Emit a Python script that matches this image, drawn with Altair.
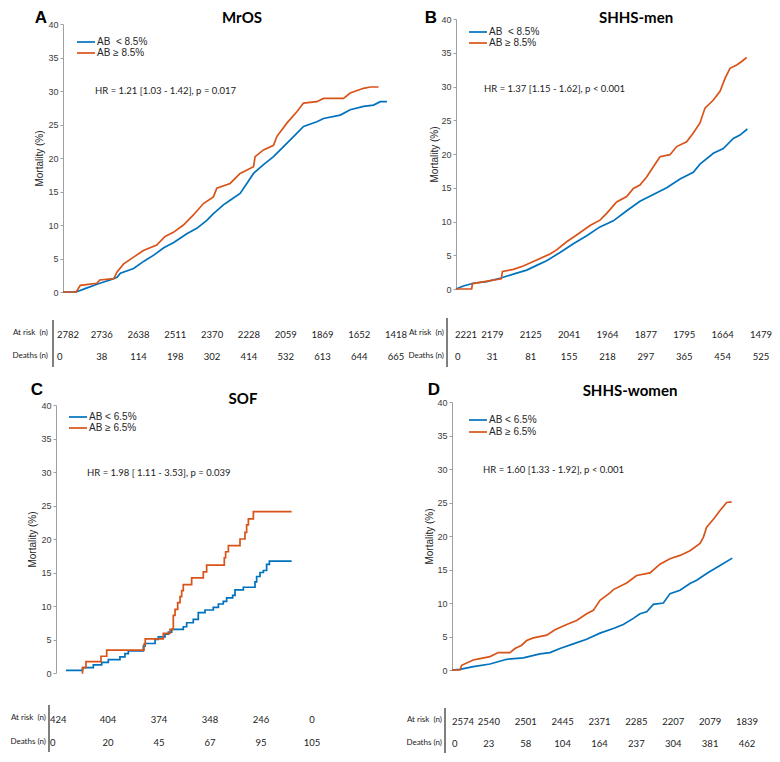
import altair as alt
import pandas as pd

BLUE = "#0072BD"
ORANGE = "#D95319"

# ---------------- Panel A : MrOS ----------------
A_low_days = [0, 180, 300, 500, 640, 735, 780, 960, 1100, 1234, 1370, 1506, 1683, 1819, 1955, 2045, 2181, 2272,
              2408, 2499, 2590, 2726, 2862, 2998, 3134, 3270, 3451, 3542, 3769, 3905, 4086, 4222, 4313, 4404]
A_low_mort = [0, 0, 0.5, 1.3, 1.8, 2.2, 2.8, 3.5, 4.6, 5.5, 6.6, 7.4, 8.7, 9.5, 10.7, 11.7, 13.0, 13.7,
              14.7, 16.2, 17.7, 19.0, 20.2, 21.7, 23.2, 24.7, 25.4, 25.9, 26.4, 27.2, 27.7, 27.9, 28.4, 28.4]
A_high_days = [0, 180, 235, 460, 500, 690, 735, 825, 960, 1093, 1274, 1388, 1501, 1637, 1773, 1909, 2045, 2091,
               2272, 2408, 2590, 2612, 2726, 2862, 2907, 3043, 3179, 3270, 3451, 3542, 3814, 3905, 4086, 4177, 4290]
A_high_mort = [0, 0, 1.0, 1.3, 1.8, 2.0, 3.0, 4.2, 5.2, 6.2, 7.0, 8.3, 8.9, 10.0, 11.5, 13.2, 14.2, 15.5,
               16.2, 17.7, 18.7, 20.2, 21.2, 21.9, 23.2, 25.2, 26.9, 28.2, 28.4, 28.9, 28.9, 29.7, 30.4, 30.6, 30.6]
A_risk_days = [0, 500, 1000, 1500, 2000, 2500, 3000, 3500, 4000, 4500]
A_at_risk = [2782, 2736, 2638, 2511, 2370, 2228, 2059, 1869, 1652, 1418]
A_deaths = [0, 38, 114, 198, 302, 414, 532, 613, 644, 665]

# ---------------- Panel B : SHHS-men ----------------
B_low_days = [0, 96, 226, 400, 573, 747, 921, 1051, 1181, 1355, 1529, 1703, 1876, 2050, 2224, 2397, 2571,
              2745, 2919, 3092, 3179, 3353, 3483, 3613, 3700, 3796]
B_low_mort = [0, 0.45, 0.85, 1.1, 1.6, 2.2, 2.8, 3.5, 4.2, 5.4, 6.7, 7.9, 9.2, 10.1, 11.6, 13.0, 14.0,
              15.0, 16.3, 17.3, 18.5, 20.1, 20.8, 22.3, 22.8, 23.7]
B_high_days = [0, 204, 215, 590, 605, 747, 877, 1051, 1225, 1311, 1442, 1572, 1746, 1876, 1963, 2093, 2224,
               2311, 2397, 2484, 2571, 2658, 2788, 2875, 3005, 3092, 3179, 3244, 3353, 3440, 3505, 3570, 3657,
               3722, 3787]
B_high_mort = [0, 0, 0.8, 1.5, 2.6, 2.9, 3.4, 4.3, 5.2, 5.8, 7.0, 8.0, 9.4, 10.2, 11.2, 12.9, 13.7,
               14.9, 15.4, 16.6, 18.1, 19.6, 19.9, 21.1, 21.8, 23.1, 24.6, 26.8, 28.0, 29.3, 31.2, 32.7, 33.2,
               33.7, 34.3]
B_risk_days = [0, 500, 1000, 1500, 2000, 2500, 3000, 3500, 4000]
B_at_risk = [2221, 2179, 2125, 2041, 1964, 1877, 1795, 1664, 1479]
B_deaths = [0, 31, 81, 155, 218, 297, 365, 454, 525]

# ---------------- Panel C : SOF ----------------
C_low_days = [98, 261, 366, 448, 513, 627, 676, 709, 856, 873, 971, 1003, 1069, 1101, 1134, 1248, 1281, 1346,
              1395, 1461, 1542, 1592, 1640, 1673, 1732, 1755, 1837, 1951, 1967, 2000, 2033, 2065, 2092, 2310]
C_low_mort = [0.4, 0.8, 1.2, 1.6, 2.0, 2.4, 2.9, 3.3, 4.0, 4.4, 5.0, 5.4, 5.8, 6.1, 6.5, 6.9, 7.5, 8.0,
              9.0, 9.4, 9.8, 10.3, 10.7, 11.2, 11.6, 12.4, 12.8, 13.6, 14.4, 15.0, 15.3, 16.2, 16.7, 16.7]
C_high_days = [252, 260, 294, 441, 497, 863, 875, 1052, 1118, 1150, 1167, 1193, 1216, 1232, 1248, 1330, 1444,
               1477, 1650, 1663, 1690, 1804, 1853, 1869, 1886, 1935, 2310]
C_high_mort = [0, 0.8, 1.7, 2.5, 3.4, 4.3, 5.1, 5.9, 6.5, 8.6, 9.5, 10.5, 11.4, 12.3, 13.2, 14.2, 15.1,
               16.1, 17.2, 18.1, 19.0, 20.0, 21.0, 22.1, 23.0, 24.1, 24.1]
C_risk_days = [0, 500, 1000, 1500, 2000, 2500]
C_at_risk = [424, 404, 374, 348, 246, 0]
C_deaths = [0, 20, 45, 67, 95, 105]

# ---------------- Panel D : SHHS-women ----------------
D_low_days = [0, 108, 289, 515, 741, 967, 1193, 1329, 1464, 1645, 1826, 2007, 2188, 2323, 2459, 2549, 2640,
              2730, 2866, 2956, 3092, 3227, 3318, 3453, 3634, 3801]
D_low_mort = [0, 0.1, 0.5, 0.9, 1.6, 1.8, 2.4, 2.6, 3.2, 3.9, 4.6, 5.5, 6.2, 6.8, 7.7, 8.4, 8.7,
              9.8, 10.0, 11.4, 11.9, 12.9, 13.4, 14.4, 15.6, 16.7]
D_high_days = [0, 108, 131, 289, 380, 515, 628, 786, 854, 945, 1012, 1103, 1284, 1397, 1555, 1690, 1826, 1916,
               2007, 2142, 2188, 2368, 2504, 2685, 2820, 2956, 3092, 3227, 3363, 3408, 3453, 3544, 3634, 3724,
               3792]
D_high_mort = [0, 0, 0.7, 1.5, 1.7, 2.0, 2.6, 2.6, 3.2, 3.7, 4.4, 4.8, 5.2, 6.0, 6.8, 7.4, 8.4, 8.9,
               10.4, 11.5, 12.0, 13.0, 14.1, 14.5, 15.8, 16.6, 17.1, 17.8, 18.9, 19.8, 21.3, 22.5, 23.8, 25.0,
               25.1]
D_risk_days = [0, 500, 1000, 1500, 2000, 2500, 3000, 3500, 4000]
D_at_risk = [2574, 2540, 2501, 2445, 2371, 2285, 2207, 2079, 1839]
D_deaths = [0, 23, 58, 104, 164, 237, 304, 381, 462]

# ---------------- layout helpers ----------------
W, H = 764, 741
PAD = {"left": 0, "top": 5, "right": 0, "bottom": 0}


def X(px):
    return px - 8 - PAD["left"]


def Y(py):
    return py - 8 - PAD["top"]


AXIS_COL = "#a0a0a0"
LABEL_COL = "#3c3c3c"
AXFONT = "Liberation Sans"
TXFONT = "Lato"


def one(**kw):
    return pd.DataFrame({k: [v] for k, v in kw.items()})


def text_at(txt, px, py, size=9, align="left", font=TXFONT, weight="normal", color="#222222", baseline="middle"):
    return alt.Chart(one(t=txt)).mark_text(
        align=align, baseline=baseline, font=font, fontSize=size, fontWeight=weight, color=color
    ).encode(x=alt.value(X(px)), y=alt.value(Y(py)), text="t:N")


def panel(c):
    xscale = alt.Scale(domain=[0, c["xmax"]], range=[X(c["x0"]), X(c["x1"])], nice=False, zero=False)
    yscale = alt.Scale(domain=[0, 40], range=[Y(c["yb"]), Y(c["yt"])], nice=False)

    curves = pd.concat([
        pd.DataFrame({"day": c["low_days"], "mort": c["low_mort"], "group": "low"}),
        pd.DataFrame({"day": c["high_days"], "mort": c["high_mort"], "group": "high"}),
    ])

    xaxis = alt.Axis(orient="bottom", offset=Y(c["yb"]) - H, values=list(range(0, c["xmax"] + 1, 500)),
                     title="Follow-up (days)", grid=False, tickSize=3, labelPadding=2, titlePadding=3,
                     labelFontSize=9, titleFontSize=10, labelFont=AXFONT, titleFont=AXFONT,
                     titleFontWeight="normal", labelColor=LABEL_COL, titleColor="#262626",
                     domainColor=AXIS_COL, tickColor=AXIS_COL, labelFlush=False, labelOverlap=False)
    yaxis = alt.Axis(orient="left", offset=-X(c["x0"]), values=list(range(0, 41, 5)),
                     title="Mortality (%)", grid=False, tickSize=3, labelPadding=2, titlePadding=c["ytp"],
                     labelFontSize=9, titleFontSize=10, labelFont=AXFONT, titleFont=AXFONT,
                     titleFontWeight="normal", labelColor=LABEL_COL, titleColor="#262626",
                     domainColor=AXIS_COL, tickColor=AXIS_COL, labelFlush=False, labelOverlap=False)

    lines = alt.Chart(curves).mark_line(interpolate=c["interp"], strokeWidth=1.7, clip=False).encode(
        x=alt.X("day:Q", scale=xscale, axis=xaxis),
        y=alt.Y("mort:Q", scale=yscale, axis=yaxis),
        color=alt.Color("group:N", scale=alt.Scale(domain=["low", "high"], range=[BLUE, ORANGE]), legend=None),
    )

    layers = [lines]

    # legend
    lx0, lx1, ly1, ly2 = c["leg"]
    for col, yy, lab in [(BLUE, ly1, c["lab_low"]), (ORANGE, ly2, c["lab_high"])]:
        layers.append(alt.Chart(one(k=1)).mark_rule(color=col, strokeWidth=1.7).encode(
            x=alt.value(X(lx0)), x2=alt.value(X(lx1)), y=alt.value(Y(yy))))
        layers.append(text_at(lab, lx1 + 2, yy, size=10, font=AXFONT, color="#262626"))

    # HR annotation
    layers.append(text_at(c["hr"], c["hr_pos"][0], c["hr_pos"][1], size=9.5))
    # titles
    layers.append(text_at(c["title"], c["title_pos"][0], c["title_pos"][1], size=15, align="center",
                          weight="bold", color="#000000", baseline=c["tbase"]))
    layers.append(text_at(c["letter"], c["letter_pos"][0], c["letter_pos"][1], size=17, align="center",
                          font=AXFONT, weight="bold", color="#000000", baseline=c["tbase"]))

    # risk table
    tbl = pd.DataFrame({"day": c["risk_days"], "atrisk": c["at_risk"], "deaths": c["deaths"]})
    first = tbl.iloc[:1]
    rest = tbl.iloc[1:]
    for field, ry in [("atrisk", c["rows"][0]), ("deaths", c["rows"][1])]:
        layers.append(alt.Chart(first).mark_text(align="left", baseline="middle", font=TXFONT, fontSize=9.5,
                                                 dx=c["dx0"], color="#222222").encode(
            x=alt.X("day:Q", scale=xscale, axis=None), y=alt.value(Y(ry)), text=f"{field}:N"))
        layers.append(alt.Chart(rest).mark_text(align="center", baseline="middle", font=TXFONT, fontSize=9.5,
                                                dx=c["dx"], color="#222222").encode(
            x=alt.X("day:Q", scale=xscale, axis=None), y=alt.value(Y(ry)), text=f"{field}:N"))
    layers.append(text_at("At risk\u00a0 (n)", c["lab_x"], c["rows"][0] - 2, size=8, align="right"))
    layers.append(text_at("Deaths (n)", c["lab_x"], c["rows"][1] - 1, size=8, align="right"))
    bx, by0, by1 = c["bar"]
    layers.append(alt.Chart(one(k=1)).mark_rule(color="#555555", strokeWidth=1.5).encode(
        x=alt.value(X(bx)), y=alt.value(Y(by0)), y2=alt.value(Y(by1))))

    return alt.layer(*layers)


panels = [
    dict(xmax=4500, x0=63, x1=394, yb=292, yt=24, ytp=3, interp="linear",
         low_days=A_low_days, low_mort=A_low_mort, high_days=A_high_days, high_mort=A_high_mort,
         leg=(77, 95, 42, 53), lab_low="AB\u00a0 < 8.5%", lab_high="AB \u2265 8.5%",
         hr="HR = 1.21 [1.03 - 1.42], p = 0.017", hr_pos=(95, 91),
         title="MrOS", title_pos=(242, 11), letter="A", letter_pos=(41, 10), tbase="top",
         risk_days=A_risk_days, at_risk=A_at_risk, deaths=A_deaths, rows=(335, 357), dx0=-6, dx=2,
         lab_x=48, bar=(53, 320, 367)),
    dict(xmax=4000, x0=456, x1=763, yb=289, yt=19, ytp=1, interp="linear",
         low_days=B_low_days, low_mort=B_low_mort, high_days=B_high_days, high_mort=B_high_mort,
         leg=(469, 487, 32, 43), lab_low="AB\u00a0 < 8.5%", lab_high="AB \u2265 8.5%",
         hr="HR = 1.37 [1.15 - 1.62], p < 0.001", hr_pos=(484, 89),
         title="SHHS-men", title_pos=(636, 11), letter="B", letter_pos=(431, 10), tbase="top",
         risk_days=B_risk_days, at_risk=B_at_risk, deaths=B_deaths, rows=(335, 357), dx0=-1, dx=-2,
         lab_x=444, bar=(447, 318, 367)),
    dict(xmax=3000, x0=56, x1=362, yb=673, yt=405, ytp=3, interp="step-after",
         low_days=C_low_days, low_mort=C_low_mort, high_days=C_high_days, high_mort=C_high_mort,
         leg=(69, 87, 417, 428), lab_low="AB < 6.5%", lab_high="AB \u2265 6.5%",
         hr="HR = 1.98 [ 1.11 - 3.53], p = 0.039", hr_pos=(87, 473),
         title="SOF", title_pos=(243, 399), letter="C", letter_pos=(37, 390), tbase="middle",
         risk_days=C_risk_days, at_risk=C_at_risk, deaths=C_deaths, rows=(720, 743), dx0=-6, dx=1,
         lab_x=46, bar=(49, 705, 752)),
    dict(xmax=4000, x0=452, x1=747, yb=670, yt=402, ytp=2, interp="linear",
         low_days=D_low_days, low_mort=D_low_mort, high_days=D_high_days, high_mort=D_high_mort,
         leg=(469, 487, 420, 432), lab_low="AB < 6.5%", lab_high="AB \u2265 6.5%",
         hr="HR = 1.60 [1.33 - 1.92], p < 0.001", hr_pos=(483, 470),
         title="SHHS-women", title_pos=(630, 391), letter="D", letter_pos=(434, 390), tbase="middle",
         risk_days=D_risk_days, at_risk=D_at_risk, deaths=D_deaths, rows=(722, 744), dx0=0, dx=0,
         lab_x=442, bar=(445, 708, 753)),
]

chart = alt.layer(*[panel(p) for p in panels]).resolve_scale(
    x="independent", y="independent"
).properties(
    width=W, height=H, padding=PAD, autosize=alt.AutoSizeParams(type="none"),
    background="white"
).configure_view(stroke=None)

chart.save("out.html", embed_options={"renderer": "svg", "actions": False})
